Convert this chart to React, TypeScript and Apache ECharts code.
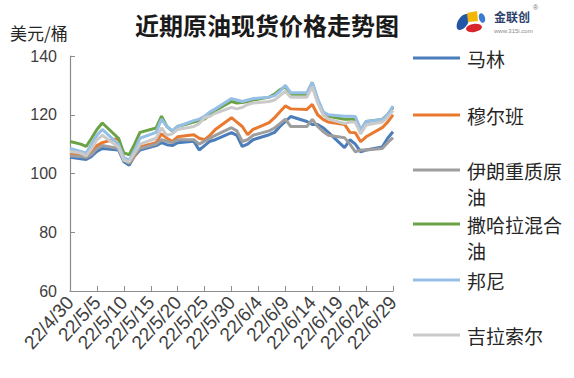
import React, { useEffect, useRef } from "react";
import * as echarts from "echarts";

const tradeDates = [
  "22/4/30",
  "22/5/2", "22/5/3", "22/5/4", "22/5/5", "22/5/6",
  "22/5/9", "22/5/10", "22/5/11", "22/5/12", "22/5/13",
  "22/5/16", "22/5/17", "22/5/18", "22/5/19", "22/5/20",
  "22/5/23", "22/5/24", "22/5/25", "22/5/26", "22/5/27",
  "22/5/30", "22/5/31", "22/6/1", "22/6/2", "22/6/3",
  "22/6/6", "22/6/7", "22/6/8", "22/6/9", "22/6/10",
  "22/6/13", "22/6/14", "22/6/15", "22/6/16", "22/6/17",
  "22/6/20", "22/6/21", "22/6/22", "22/6/23", "22/6/24",
  "22/6/27", "22/6/28", "22/6/29",
];

const malin = [
  105.5, 105, 104.8, 105.8, 107.5, 108.5, 108, 104, 102.8, 106, 108,
  109.5, 110.5, 109.8, 109.5, 110.5, 111, 108, 109.5, 111, 111.5,
  113.9, 113, 109.2, 110, 111.5, 113.2, 114, 116, 117.7, 119.4,
  117.7, 116.7, 116.7, 115.6, 114, 108.8, 111.5, 110, 107.4, 108,
  109, 112, 114.2,
];
const murban = [
  106.8, 106, 105.5, 107, 109.5, 110.5, 112, 105, 103.5, 106, 109,
  110.5, 113.5, 112, 110.9, 112.5, 113.2, 112, 111.5, 113, 115,
  119, 117.5, 116, 113.2, 115, 117.3, 119, 121, 123, 122,
  121.8, 123.5, 120, 118.4, 117.5, 116.7, 114, 113.9, 110.8, 112.5,
  115.6, 117.5, 120,
];
const iranHeavy = [
  106, 105.8, 105.5, 106.5, 108.5, 109.5, 108.5, 104.5, 103.5, 106.5, 108.5,
  110, 111.5, 111, 110.5, 111.5, 111.5, 110, 111, 112, 113,
  115.6, 114.5, 110.9, 111.5, 113, 114.5, 115.5, 117, 118.5, 116,
  116, 118.4, 116, 114.3, 113, 112.2, 110, 107.4, 108, 108,
  108.5, 110.5, 112.2,
];
const saharan = [
  110.9, 110, 109.2, 112, 115, 117.2, 112, 107, 106.4, 110, 114,
  115.5, 119.5, 116, 114.4, 116, 117.5, 118, 118.5, 120, 121.5,
  124.5, 124, 124.2, 124.5, 125, 126, 127, 128.5, 129.5, 127,
  127, 131, 125, 121, 119.5, 118.5, 118.5, 118.4, 114.3, 117.7,
  118.4, 120, 122.5,
];
const bonny = [
  108.5, 107.5, 107, 110, 113, 115, 110, 105.5, 104.5, 108, 112,
  114, 118.5, 116, 114.5, 116, 118, 118.5, 119.5, 121, 122,
  125.5, 125, 124.5, 125, 125.5, 126, 126.5, 128, 130, 127.5,
  127.5, 131, 125.5, 121, 120, 119.5, 119.5, 119.4, 115, 117.7,
  118.4, 120, 123,
];
const girassol = [
  107.5, 107, 106, 108.5, 111.5, 113, 109, 104.5, 104, 107, 110,
  112, 115.5, 113, 113.5, 115, 116, 117, 119, 119.5, 120.5,
  122.5, 122, 122.5, 123.5, 124, 124.5, 125, 126.5, 128, 126,
  126, 129.5, 124, 120, 118.5, 117, 117.5, 117.5, 113.5, 116.5,
  117.5, 119, 121.5,
];

const seriesNames = ["马林", "穆尔班", "伊朗重质原油", "撒哈拉混合油", "邦尼", "吉拉索尔"];
const seriesValues = [malin, murban, iranHeavy, saharan, bonny, girassol];
const seriesColors = ["#4A7DBA", "#E8792F", "#9E9E9E", "#6AA244", "#95BFE6", "#CACACA"];
const legendLabels = ["马林", "穆尔班", "\n伊朗重质原\n油", "\n撒哈拉混合\n油", "邦尼", "吉拉索尔"];
const legendTops = [45, 102, 131, 185, 267, 322];

const yTicks = { min: 60, max: 140, interval: 20 };

// all calendar days 2022-04-30 .. 2022-06-29 for the category axis
function buildDays(): string[] {
  const out: string[] = [];
  const d = new Date(2022, 3, 30);
  const end = new Date(2022, 5, 29);
  while (d <= end) {
    out.push(`22/${d.getMonth() + 1}/${d.getDate()}`);
    d.setDate(d.getDate() + 1);
  }
  return out;
}

export default function App() {
  const ref = useRef<HTMLDivElement>(null);
  useEffect(() => {
    if (!ref.current) return;
    const chart = echarts.init(ref.current, null, { renderer: "svg" });
    const days = buildDays();
    const cjk = "'Noto Sans CJK SC', 'Noto Sans', sans-serif";
    const latin = "'Liberation Sans', Arial, sans-serif";
    const series = seriesNames.map((name, i) => {
      const m = new Map<string, number>();
      tradeDates.forEach((dt, k) => m.set(dt, seriesValues[i][k]));
      return {
        name,
        type: "line",
        data: days.map((dt) => (m.has(dt) ? m.get(dt) : null)),
        connectNulls: true,
        symbol: "none",
        smooth: false,
        lineStyle: { width: 3, color: seriesColors[i] },
        itemStyle: { color: seriesColors[i] },
      };
    });
    const legends = seriesNames.map((name, i) => ({
      data: [name],
      left: 413,
      top: legendTops[i],
      padding: 0,
      icon: "rect",
      itemWidth: 47,
      itemHeight: 3,
      itemGap: 0,
      orient: "vertical",
      formatter: () => legendLabels[i],
      selectedMode: false,
      textStyle: {
        fontSize: 19,
        lineHeight: 26,
        color: "#262626",
        fontFamily: cjk,
        padding: [0, 0, 0, 2],
      },
    }));
    chart.setOption({
      animation: false,
      backgroundColor: "#ffffff",
      title: {
        text: "近期原油现货价格走势图",
        left: 135,
        top: 12,
        padding: 0,
        textStyle: { fontSize: 24, fontWeight: "bold", color: "#1a1a1a", fontFamily: cjk },
      },
      legend: legends,
      grid: { left: 70, top: 56, right: 181, bottom: 87, containLabel: false },
      xAxis: {
        type: "category",
        data: days,
        boundaryGap: false,
        axisLine: { lineStyle: { color: "#8c8c8c", width: 1.2 } },
        axisTick: { show: true, inside: true, interval: 4, length: 5, lineStyle: { color: "#8c8c8c" } },
        axisLabel: {
          interval: 4,
          rotate: 48,
          fontSize: 19,
          color: "#404040",
          fontFamily: latin,
          margin: 8,
        },
        splitLine: { show: false },
      },
      yAxis: {
        type: "value",
        min: yTicks.min,
        max: yTicks.max,
        interval: yTicks.interval,
        axisLine: { show: true, lineStyle: { color: "#8c8c8c", width: 1.2 } },
        axisTick: { show: true, inside: true, length: 5, lineStyle: { color: "#8c8c8c" } },
        axisLabel: { fontSize: 16, color: "#404040", fontFamily: latin, margin: 13 },
        splitLine: { show: false },
      },
      graphic: [
        {
          type: "text",
          left: 10,
          top: 24,
          style: { text: "美元/桶", fontSize: 17, fill: "#262626", fontFamily: cjk },
        },
        {
          type: "ellipse",
          x: 463,
          y: 22,
          rotation: -0.55,
          shape: { cx: 0, cy: 0, rx: 5, ry: 9 },
          style: { fill: "#2456a6" },
        },
        {
          type: "polygon",
          shape: { points: [[467, 13], [477, 11], [478, 21], [468, 22]] },
          style: { fill: "#f2b705" },
        },
        {
          type: "ellipse",
          x: 474,
          y: 28,
          rotation: 0.15,
          shape: { cx: 0, cy: 0, rx: 8, ry: 4 },
          style: { fill: "#d8262c" },
        },
        {
          type: "ellipse",
          x: 482,
          y: 18,
          rotation: 0.3,
          shape: { cx: 0, cy: 0, rx: 3, ry: 5 },
          style: { fill: "#3b7bd0" },
        },
        {
          type: "text",
          x: 494,
          y: 10,
          style: { text: "金联创", fontSize: 12, fontWeight: "bold", fill: "#2d3f6b", fontFamily: cjk },
        },
        {
          type: "text",
          x: 533,
          y: 4,
          style: { text: "®", fontSize: 7, fill: "#777", fontFamily: latin },
        },
        {
          type: "text",
          x: 494,
          y: 28,
          style: { text: "www.315i.com", fontSize: 6, fill: "#888", fontFamily: latin },
        },
      ],
      series,
    });
    return () => chart.dispose();
  }, []);
  return (
    <div
      ref={ref}
      style={{ position: "fixed", left: 0, top: 0, width: 574, height: 378, background: "#fff" }}
    />
  );
}
